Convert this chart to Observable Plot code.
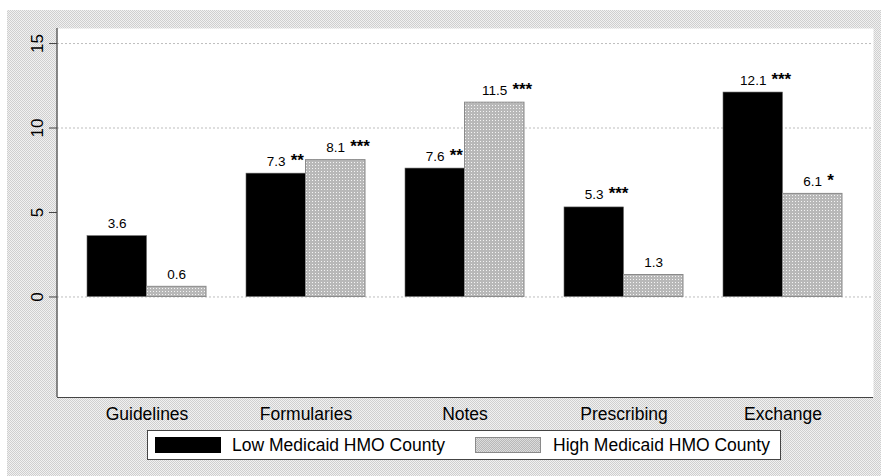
<!DOCTYPE html>
<html>
<head>
<meta charset="utf-8">
<script src="https://cdn.jsdelivr.net/npm/d3@7"></script>
<script src="https://cdn.jsdelivr.net/npm/@observablehq/plot@0.6"></script>
<style>
  html, body { margin: 0; padding: 0; background: #fff; }
  #wrap { position: relative; width: 881px; height: 476px; overflow: hidden; font-family: 'Liberation Sans', Arial, sans-serif; }
  #bg { position: absolute; left: 7px; top: 10px; right: 0; bottom: 0;
        background: repeating-conic-gradient(#cfcfcf 0 25%, #f1f1f1 0 50%) 0 0 / 2px 2px; }
  #chart { position: absolute; left: 0; top: 0; }
  #legend { position: absolute; left: 147px; top: 430px; width: 632px; height: 28px;
            background: #fff; border: 1px solid #444; font-size: 17.5px; color: #000; }
  .sw { position: absolute; top: 6px; width: 66px; height: 16px; box-sizing: border-box; }
  .lt { position: absolute; top: 4px; line-height: 20px; white-space: nowrap; }
</style>
</head>
<body>
<div id="wrap">
  <div id="bg"></div>
  <div id="chart"></div>
  <div id="legend"></div>
</div>
<script>
const categories = ["Guidelines", "Formularies", "Notes", "Prescribing", "Exchange"];
const lowValues  = [3.6, 7.3, 7.6, 5.3, 12.1];
const highValues = [0.6, 8.1, 11.5, 1.3, 6.1];
const lowStars   = ["", "**", "**", "***", "***"];
const highStars  = ["", "***", "***", "", "*"];
const seriesNames = ["Low Medicaid HMO County", "High Medicaid HMO County"];
const yTicks = [0, 5, 10, 15];
const yGrid = [0, 10, 15];
const yDomain = [-5.95, 15.89];

const rows = categories.map((c, i) => ({
  category: c, low: lowValues[i], high: highValues[i],
  lowStars: lowStars[i], highStars: highStars[i]
}));

const FONT = "'Liberation Sans', Arial, sans-serif";
const ctx = document.createElement("canvas").getContext("2d");
ctx.font = `13.5px ${FONT}`;
const measure = s => ctx.measureText(s).width;

const HI_FILL = "url(#hiPat)";

function labelMarks(key, starsKey, sign, bw) {
  return rows.flatMap(r => {
    const num = r[key].toFixed(1);
    const off = sign * bw / 4;
    const m = [Plot.text([r], {x: "category", y: key, text: d => d[key].toFixed(1),
      dx: off, dy: -8, lineAnchor: "bottom", fontSize: 13.5, fill: "#000"})];
    if (r[starsKey]) m.push(Plot.text([r], {x: "category", y: key, text: starsKey,
      dx: off + measure(num) / 2 + 5, dy: -8, lineAnchor: "bottom", textAnchor: "start",
      fontSize: 17, fontWeight: "bold", fill: "#000"}));
    return m;
  });
}

function makePlot(bw) {
  return Plot.plot({
    width: 881, height: 476,
    marginLeft: 57, marginRight: 8, marginTop: 28, marginBottom: 79,
    style: {background: "transparent", fontFamily: FONT, color: "#000"},
    x: {domain: categories, paddingInner: 0.25, paddingOuter: 0.186, label: null},
    y: {domain: yDomain, label: null},
    marks: [
      Plot.frame({fill: "white"}),
      Plot.ruleY(yGrid, {stroke: "#bdbdbd", strokeDasharray: "2,2", strokeWidth: 1}),
      Plot.barY(rows, {x: "category", y: "low", fill: "black", stroke: "#666", strokeWidth: 0.6, insetRight: bw / 2}),
      Plot.barY(rows, {x: "category", y: "high", fill: HI_FILL, stroke: "#8a8a8a", strokeWidth: 1, insetLeft: bw / 2}),
      ...labelMarks("low", "lowStars", -1, bw),
      ...labelMarks("high", "highStars", 1, bw),
      Plot.ruleY([yDomain[0]], {stroke: "#444", strokeWidth: 1.2}),
      Plot.axisX({tickSize: 0, tickPadding: 10, fontSize: 17.5, label: null}),
      Plot.axisY({ticks: yTicks, tickSize: 8, tickFormat: () => "", stroke: "#444", label: null}),
      Plot.text(yTicks, {y: d => d, text: d => String(d), frameAnchor: "left", rotate: -90,
        textAnchor: "middle", dx: -15, lineAnchor: "bottom", fontSize: 17, fill: "#000"})
    ]
  });
}

const probe = makePlot(0);
const bw = probe.scale("x").bandwidth;
const chart = makePlot(bw);

// pattern for the light-gray bars
const svg = d3.select(chart);
const defs = svg.insert("defs", ":first-child");
const pat = defs.append("pattern").attr("id", "hiPat").attr("patternUnits", "userSpaceOnUse")
  .attr("width", 3).attr("height", 3);
pat.append("rect").attr("width", 3).attr("height", 3).attr("fill", "#b8b8b8");
pat.append("rect").attr("width", 1).attr("height", 1).attr("fill", "#f4f4f4");

// left axis line from the scales' ranges
const xr = chart.scale("x").range, yr = chart.scale("y").range;
svg.append("line").attr("x1", xr[0]).attr("x2", xr[0]).attr("y1", yr[0]).attr("y2", yr[1])
  .attr("stroke", "#444").attr("stroke-width", 1.2);

document.getElementById("chart").appendChild(chart);

// legend
const lg = document.getElementById("legend");
lg.innerHTML = `
  <div class="sw" style="left:7px;background:#000"></div>
  <div class="lt" style="left:84px">${seriesNames[0]}</div>
  <div class="sw" style="left:327px;background:repeating-conic-gradient(#b8b8b8 0 25%, #dcdcdc 0 50%) 0 0/2px 2px;border:1px solid #8a8a8a"></div>
  <div class="lt" style="left:405px">${seriesNames[1]}</div>`;
</script>
</body>
</html>
